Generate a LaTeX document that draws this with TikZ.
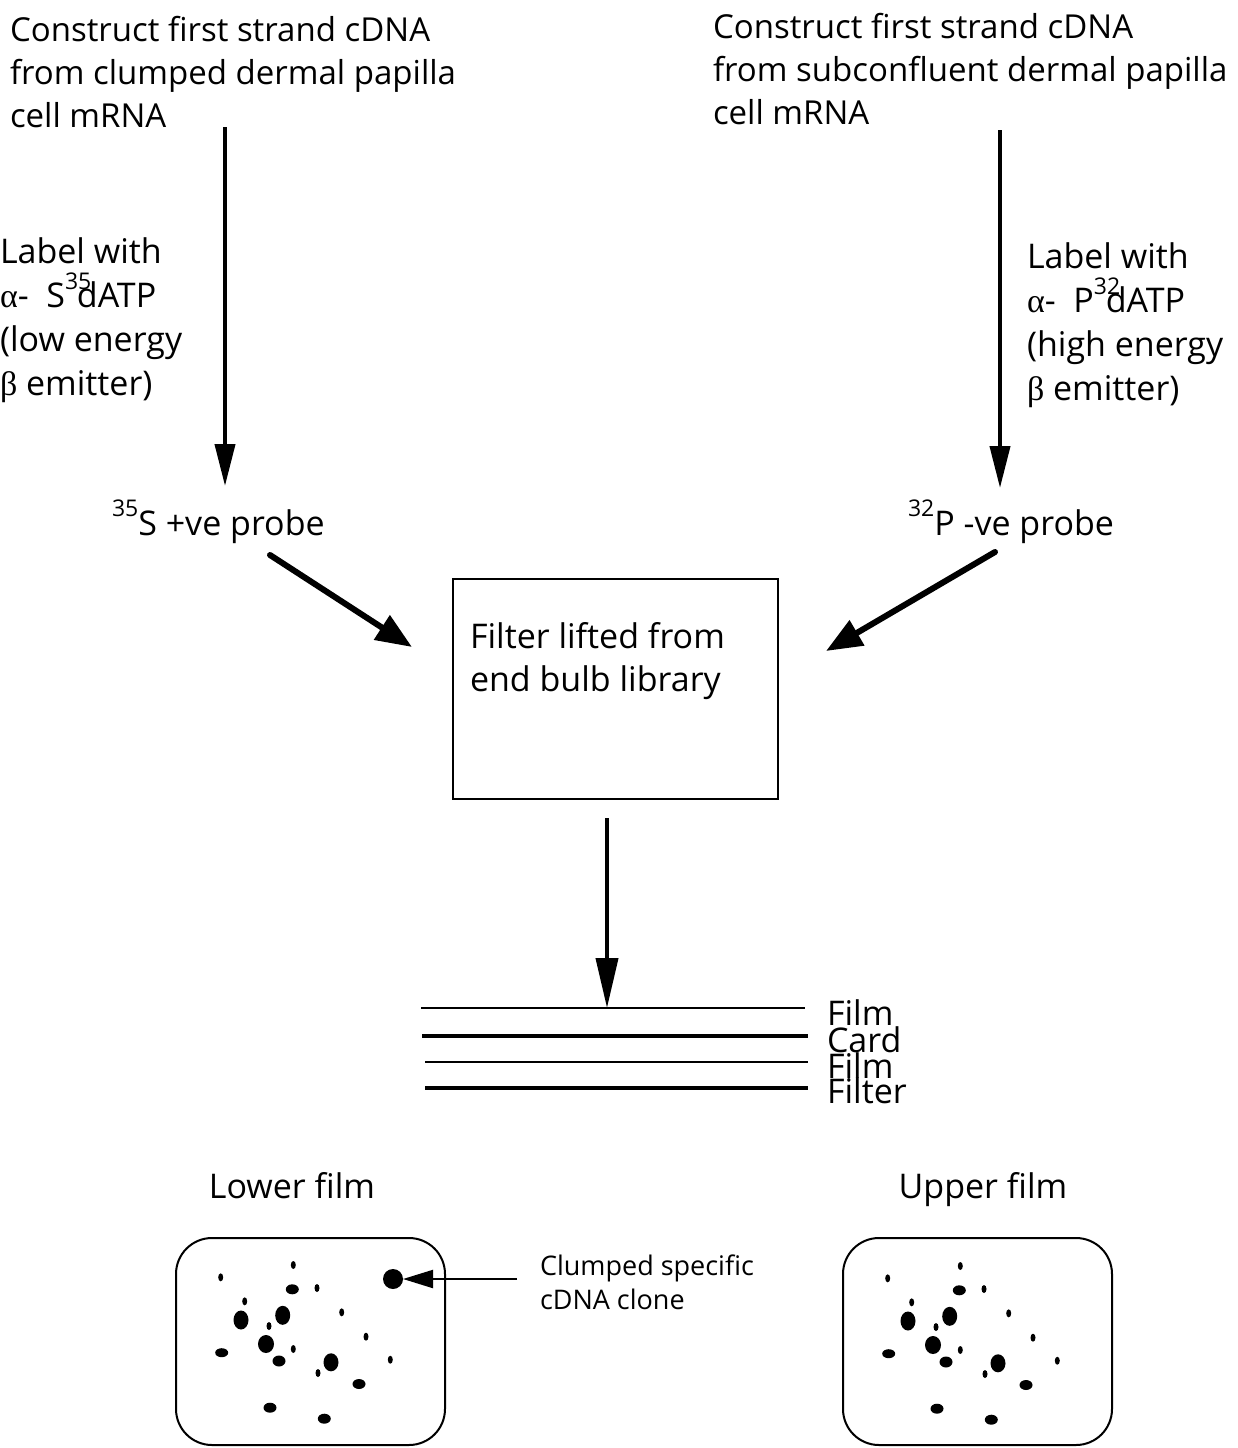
\documentclass[tikz,border=0pt]{standalone}
\usepackage{fontspec}
\setmainfont{Open Sans}
\newfontfamily\grk{Liberation Serif}
\usetikzlibrary{arrows.meta}
\newcommand\bigtxt{\fontsize{34}{43}\selectfont}
\newcommand\toptxt{\fontsize{33}{43}\selectfont}
\newcommand\labtxt{\fontsize{34}{44}\selectfont}
\newcommand\smalltxt{\fontsize{27}{34}\selectfont}
\newcommand\supr[1]{\raisebox{0.55em}{\fontsize{23}{23}\selectfont #1}}
\begin{document}
\begin{tikzpicture}[x=1pt,y=-1pt,
  txt/.style={inner sep=0pt,outer sep=0pt,font=\bigtxt,align=left},
  ttxt/.style={inner sep=0pt,outer sep=0pt,font=\toptxt,align=left},
  ltxt/.style={inner sep=0pt,outer sep=0pt,font=\labtxt,align=left},
  stxt/.style={inner sep=0pt,outer sep=0pt,font=\smalltxt,align=left},
  vflow/.style={line width=4pt,-{Triangle[length=42pt,width=20pt]}},
  dflow/.style={line width=6pt,line cap=round,-{Triangle[length=36pt,width=28pt]}},
  box/.style={draw,line width=1.5pt,inner sep=0pt},
  film/.style={draw,line width=2pt,rounded corners=36pt},
  spot/.style={fill=black}]
\useasboundingbox (0,0) rectangle (1237,1448);
% top texts
\node[ttxt,anchor=north west] (tl) at (10,16) {Construct first strand cDNA\\from clumped dermal papilla\\cell mRNA};
\node[ttxt,anchor=north west] (tr) at (713,13) {Construct first strand cDNA\\from subconfluent dermal papilla\\cell mRNA};
% side labels
\node[ltxt,anchor=north west] (ll) at (0,238) {Label with\\{\grk α}-\ \ S\rlap{\supr{35}}\kern0.35em dATP\\(low energy\\{\grk β} emitter)};
\node[ltxt,anchor=north west] (lr) at (1027,243) {Label with\\{\grk α}-\ \ P\rlap{\supr{32}}\kern0.35em dATP\\(high energy\\{\grk β} emitter)};
% probes
\node[txt,anchor=base west] (sp) at (112,535) {\supr{35}S +ve probe};
\node[txt,anchor=base west] (pp) at (908,535) {\supr{32}P -ve probe};
% connectors top
\coordinate (a1) at (225,127); \coordinate (a2) at (225,486);
\coordinate (b1) at (1000,130); \coordinate (b2) at (1000,488);
\draw[vflow] (a1) -- (a2);
\draw[vflow] (b1) -- (b2);
% box
\node[box,minimum width=325pt,minimum height=220pt,anchor=north west] (fb) at (452,578) {};
\node[txt,anchor=north west] (fbt) at (470,622) {Filter lifted from\\end bulb library};
\coordinate (c1) at (270,555); \coordinate (c2) at (412,647);
\coordinate (d1) at (995,552); \coordinate (d2) at (826,651);
\draw[dflow] (c1) -- (c2);
\draw[dflow] (d1) -- (d2);
% down arrow to stack
\coordinate (e1) at (607,818); \coordinate (e2) at (607,1008);
\draw[line width=4pt,-{Triangle[length=50pt,width=22pt]}] (e1) -- (e2);
% stack lines
\coordinate (f1a) at (421,1008); \coordinate (f1b) at (805,1008);
\coordinate (f2a) at (422,1036); \coordinate (f2b) at (808,1036);
\coordinate (f3a) at (425,1062); \coordinate (f3b) at (808,1062);
\coordinate (f4a) at (425,1088); \coordinate (f4b) at (808,1088);
\draw[line width=2pt] (f1a) -- (f1b);
\draw[line width=4.5pt] (f2a) -- (f2b);
\draw[line width=2.5pt] (f3a) -- (f3b);
\draw[line width=3.5pt] (f4a) -- (f4b);
\node[txt,anchor=base west] (l1) at (827,1025) {Film};
\node[txt,anchor=base west] (l2) at (827,1052) {Card};
\node[txt,anchor=base west] (l3) at (827,1078) {Film};
\node[txt,anchor=base west] (l4) at (827,1103) {Filter};
% film titles
\node[txt] (lft) at (292,1186) {Lower film};
\node[txt] (uft) at (983,1190) {Upper film};
% film boxes
\draw[film] (176,1238) rectangle (445,1445);
\draw[film] (843,1238) rectangle (1112,1445);
% spots
\foreach \dx/\dy in {0/0,667/1}{
 \begin{scope}[shift={(\dx,\dy)}]
 \foreach \x/\y/\rx/\ry in {
  220.7/1277.3/2.5/4, 293.3/1265/2.5/4, 292.3/1289.3/6.5/5, 317/1288/2.5/4,
  244.7/1301.3/2.5/4, 241/1320/7.5/9.5, 282.7/1315.3/7.5/9.5, 269/1326/2.5/4,
  341.7/1312.3/2.5/4, 266/1344/8/9, 293.3/1349/2.5/4, 221.7/1352.7/6.5/4.5,
  279/1361/6.5/5.5, 331/1362.3/7.5/9, 318/1373/2.5/4, 366/1336.7/2.5/4,
  390.3/1359.7/2.5/4, 359/1384/6.5/5, 270/1407.7/6.5/5, 324.3/1418.7/6.5/5}
  {\fill[spot] (\x,\y) ellipse [x radius=\rx pt, y radius=\ry pt];}
 \end{scope}
}
\fill[spot] (393,1279) circle [radius=10pt];
\coordinate (dot) at (403,1279);
\coordinate (g1) at (517,1279);
\draw[line width=2pt,-{Triangle[length=30pt,width=18pt]}] (g1) -- (dot);
\node[stxt,anchor=north west] (cl) at (540,1255) {Clumped specific\\cDNA clone};
\end{tikzpicture}
\end{document}
